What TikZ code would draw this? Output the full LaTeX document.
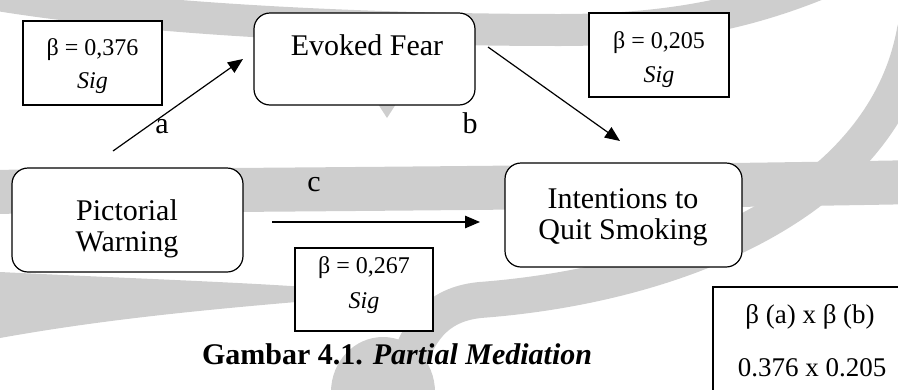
\documentclass[tikz,border=0pt]{standalone}
\usepackage{fontspec}
\setmainfont{Liberation Serif}
\usetikzlibrary{arrows.meta}
\definecolor{wmgrey}{RGB}{206,206,206}
\begin{document}
\begin{tikzpicture}[x=1pt,y=-1pt,
  every node/.style={inner sep=0pt, outer sep=0pt},
  rbox/.style={draw, line width=1.2pt, rounded corners=16pt, fill=white},
  sbox/.style={draw, line width=1.2pt, fill=white},
  big/.style={font=\fontsize{30}{32}\selectfont},
  small/.style={font=\fontsize{24}{26}\selectfont},
  mid/.style={font=\fontsize{27}{29}\selectfont},
  arr/.style={line width=1.2pt, -{Triangle[length=15pt,width=12.5pt]}},
  wm/.style={draw=wmgrey, line cap=round},
  wmf/.style={fill=wmgrey},
]
\useasboundingbox (0,0) rectangle (898,389);
\begin{scope}
\clip (0,0) rectangle (898,389);
% watermark (background)
\draw[wm, line width=32pt] (-20,-8) .. controls (150,22) and (400,30) .. (560,30) .. controls (680,30) and (760,10) .. (840,-25);
\draw[wm, line width=44pt] (-20,192) .. controls (200,190) and (600,188) .. (920,182);
\draw[wm, line width=36pt] (915,30) .. controls (885,200) and (680,285) .. (480,300) .. controls (430,305) and (410,340) .. (400,400);
\fill[wmf] (0,272) .. controls (120,278) and (240,282) .. (320,288) -- (320,300) .. controls (200,310) and (100,320) .. (0,338) -- cycle;
\fill[wmf] (383,392) ellipse (52pt and 55pt);
\fill[wmf] (378,104) -- (396,104) -- (387,118) -- cycle;
% boxes
\node[rbox, minimum width=221pt, minimum height=92pt] (ef) at (364.5,59) {};
\node[rbox, minimum width=231pt, minimum height=104pt] (pw) at (127.5,220) {};
\node[rbox, minimum width=237pt, minimum height=104pt] (iq) at (623.5,215) {};
\node[sbox, minimum width=139pt, minimum height=84pt] (b1) at (92.5,63) {};
\node[sbox, minimum width=140pt, minimum height=84pt] (b2) at (659,55) {};
\node[sbox, minimum width=138pt, minimum height=83pt] (b3) at (364,289.5) {};
\node[sbox, minimum width=197pt, minimum height=113pt] (b4) at (811.5,343.5) {};
% texts in boxes
\node[big, anchor=base] (tef) at (367,55) {Evoked Fear};
\node[big, anchor=base] (tpw1) at (127,220) {Pictorial};
\node[big, anchor=base] (tpw2) at (127,251) {Warning};
\node[big, anchor=base] (tiq1) at (623,208) {Intentions to};
\node[big, anchor=base] (tiq2) at (623,239) {Quit Smoking};
\node[small, anchor=base] (tb1a) at (92.5,55) {β = 0,376};
\node[small, anchor=base] (tb1b) at (92.5,88) {\itshape Sig};
\node[small, anchor=base] (tb2a) at (659,48) {β = 0,205};
\node[small, anchor=base] (tb2b) at (659,82) {\itshape Sig};
\node[small, anchor=base] (tb3a) at (364,273) {β = 0,267};
\node[small, anchor=base] (tb3b) at (364,308) {\itshape Sig};
\node[mid, anchor=base] (tb4a) at (810,323) {β (a) x β (b)};
\node[mid, anchor=base] (tb4b) at (812,376) {0.376 x 0.205};
% arrows
\coordinate (a0) at (113,151);
\coordinate (a1) at (243,59);
\coordinate (b0) at (488,47);
\coordinate (b1e) at (620,141);
\coordinate (c0) at (272,222);
\coordinate (c1) at (480,222);
\draw[arr] (a0) -- (a1);
\draw[arr] (b0) -- (b1e);
\draw[arr] (c0) -- (c1);
% labels
\node[big, anchor=base] (la) at (162,133) {a};
\node[big, anchor=base] (lb) at (470,133) {b};
\node[big, anchor=base] (lc) at (314,191) {c};
% caption
\node[big, anchor=base west] (cap) at (202,364) {\bfseries Gambar 4.1. \itshape Partial Mediation};
\end{scope}
\end{tikzpicture}
\end{document}
